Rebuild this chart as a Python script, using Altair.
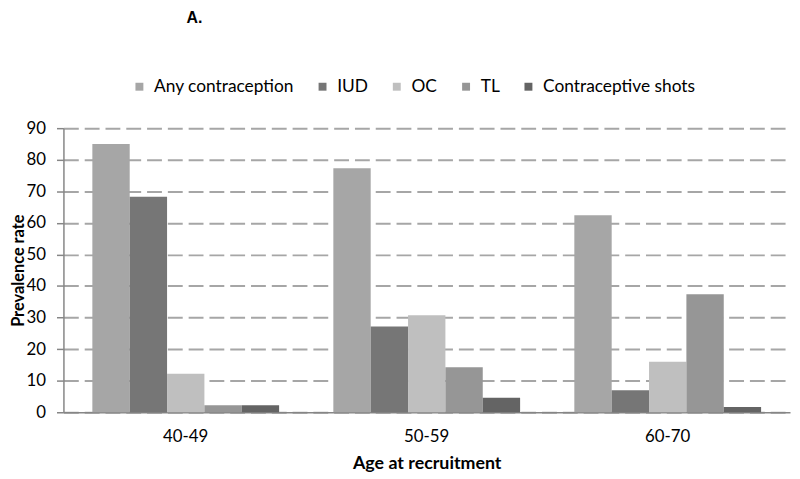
import altair as alt
import pandas as pd

ages = ["40-49", "50-59", "60-70"]
methods = ["Any contraception", "IUD", "OC", "TL", "Contraceptive shots"]
any_c = [85.0, 77.3, 62.4]
iud = [68.3, 27.2, 7.0]
oc = [12.2, 30.7, 16.0]
tl = [2.2, 14.3, 37.4]
shots = [2.2, 4.6, 1.7]
colors = ["#a6a6a6", "#767676", "#bfbfbf", "#969696", "#646464"]

series = [any_c, iud, oc, tl, shots]
rows = []
for m, vals in zip(methods, series):
    for a, v in zip(ages, vals):
        rows.append({"age": a, "method": m, "value": v})
df = pd.DataFrame(rows)

font = "Lato"

chart = alt.Chart(df).mark_bar().encode(
    x=alt.X("age:N", sort=ages,
            scale=alt.Scale(paddingInner=0.225, paddingOuter=0.12),
            axis=alt.Axis(title="Age at recruitment", labelAngle=0, ticks=False,
                          labelFontSize=17, labelPadding=17, titleFontSize=18,
                          titleFontWeight="bold", titlePadding=10,
                          domainColor="#868686", domainWidth=1.5,
                          labelColor="#000", titleColor="#000", labelFont=font, titleFont=font)),
    xOffset=alt.XOffset("method:N", sort=methods, scale=alt.Scale(paddingInner=0, paddingOuter=0)),
    y=alt.Y("value:Q", scale=alt.Scale(domain=[0, 90], nice=False),
            axis=alt.Axis(title="Prevalence rate", values=list(range(0, 91, 10)),
                          labelFontSize=17, titleFontSize=16.5, titleFontWeight="bold",
                          titlePadding=0, tickSize=7, tickColor="#868686", tickWidth=1.5,
                          domainColor="#868686", domainWidth=1.5,
                          grid=True, gridDash=[15, 6], gridColor="#a6a6a6", gridWidth=2,
                          labelColor="#000", titleColor="#000", labelFont=font, titleFont=font,
                          labelPadding=11)),
    color=alt.Color("method:N", sort=methods,
                    scale=alt.Scale(domain=methods, range=colors),
                    legend=alt.Legend(title=None, orient="none", direction="horizontal",
                                      legendX=68, legendY=-51, symbolType="square",
                                      symbolSize=64, symbolStrokeWidth=0, labelFontSize=17.5,
                                      labelFont=font, labelColor="#000",
                                      columnPadding=20, labelOffset=6,
                                      labelLimit=300)),
).properties(
    width=734, height=287,
    title=alt.TitleParams("A.", anchor="start", dx=178, offset=52, fontSize=16,
                          font="Liberation Sans", fontWeight="bold", color="#000"),
    autosize=alt.AutoSizeParams(type="none"),
    padding={"left": 56, "top": 119, "right": 2, "bottom": 64},
).configure_view(stroke=None)

chart.save("out.html", embed_options={"renderer": "svg", "actions": False})
